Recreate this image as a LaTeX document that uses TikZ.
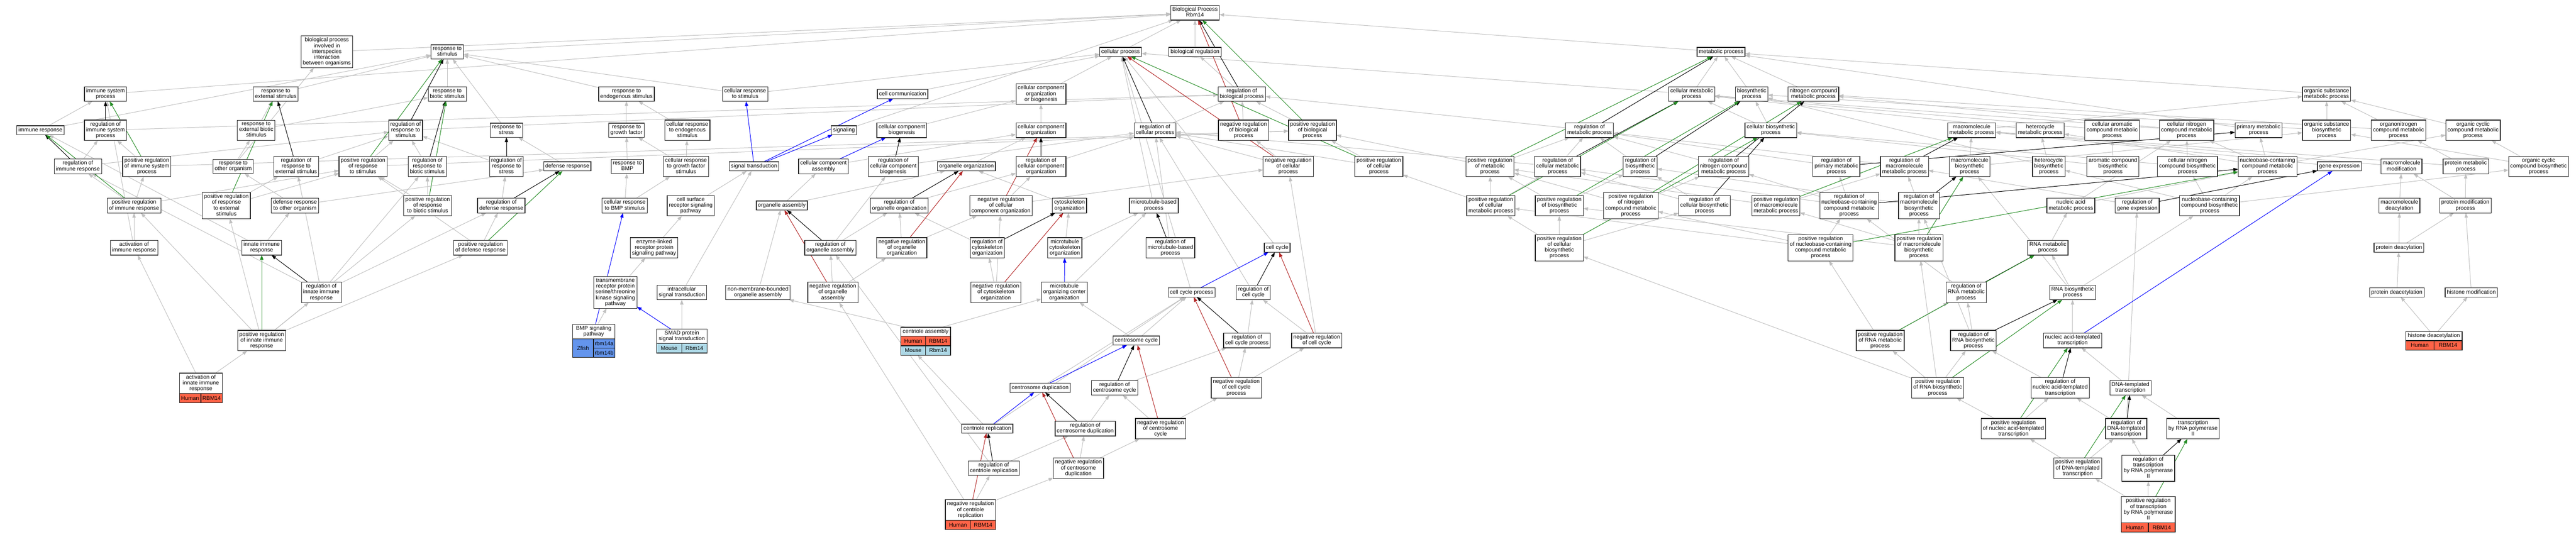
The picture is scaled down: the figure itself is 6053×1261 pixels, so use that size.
\documentclass[tikz,border=0pt]{standalone}
\usepackage{fontspec}
\setmainfont{Liberation Sans}
\usetikzlibrary{arrows.meta}
\newcommand\gofont{\fontsize{13pt}{13.5pt}\selectfont}
\definecolor{egray}{HTML}{C0C0C0}
\definecolor{egreen}{HTML}{228B22}
\definecolor{ered}{HTML}{B22222}
\definecolor{eblue}{HTML}{0000FF}
\definecolor{human}{HTML}{FF6347}
\definecolor{mouse}{HTML}{ADD8E6}
\definecolor{zfish}{HTML}{6495ED}
\pgfdeclarelayer{bg}
\pgfsetlayers{bg,main}
\tikzset{
  go/.style={draw=black!85, line width=1.5pt, fill=white, align=center, inner xsep=4pt, inner ysep=4pt, outer sep=0pt, font=\gofont,
    execute at begin node={\rule{0pt}{10pt}}, execute at end node={\rule[-3.5pt]{0pt}{3.5pt}}},
  tagc/.style={draw=black!90, line width=1.5pt, minimum height=22pt, inner sep=0pt, outer sep=0pt, font=\gofont},
  isa/.style={draw=egray, line width=1.2pt, -{Triangle[length=11pt,width=8pt]}},
  reg/.style={draw=black, line width=1.2pt, -{Triangle[length=11pt,width=8pt]}},
  preg/.style={draw=egreen, line width=1.2pt, -{Triangle[length=11pt,width=8pt]}},
  nreg/.style={draw=ered, line width=1.2pt, -{Triangle[length=11pt,width=8pt]}},
  partof/.style={draw=eblue, line width=1.2pt, -{Triangle[length=11pt,width=8pt]}}
}
\begin{document}
\begin{tikzpicture}[x=1pt,y=-1pt]
\begin{pgfonlayer}{bg}
\fill[white] (0,0) rectangle (6053,1261);
\end{pgfonlayer}
\useasboundingbox (0,0) rectangle (6053,1261);
% ---------- column A
\node[go] (isp) at (768,122) {biological process\\involved in\\interspecies\\interaction\\between organisms};
\node[go] (isys) at (248,221) {immune system\\process};
\node[go] (rext) at (648,221) {response to\\external stimulus};
\node[go] (imr) at (95,306) {immune response};
\node[go] (risp) at (248,306) {regulation of\\immune system\\process};
\node[go] (rebs) at (602,306) {response to\\external biotic\\stimulus};
\node[go] (rrs) at (953,306) {regulation of\\response to\\stimulus};
\node[go] (rir) at (183,391) {regulation of\\immune response};
\node[go] (prisp) at (345,391) {positive regulation\\of immune system\\process};
\node[go] (roo) at (548,391) {response to\\other organism};
\node[go] (rres) at (696,391) {regulation of\\response to\\external stimulus};
\node[go] (prrs) at (853,391) {positive regulation\\of response\\to stimulus};
\node[go] (rrbs) at (1004,391) {regulation of\\response to\\biotic stimulus};
\node[go] (prir) at (315,483) {positive regulation\\of immune response};
\node[go] (prres) at (532,483) {positive regulation\\of response\\to external\\stimulus};
\node[go] (droo) at (693,483) {defense response\\to other organism};
\node[go] (prrbs) at (1005,483) {positive regulation\\of response\\to biotic stimulus};
\node[go] (air) at (315,582) {activation of\\immune response};
\node[go] (iir) at (615,582) {innate immune\\response};
\node[go] (riir) at (755,687) {regulation of\\innate immune\\response};
\node[go] (priir) at (615,800) {positive regulation\\of innate immune\\response};
\node[go, minimum width=101pt] (aiir) at (472,900.5) {activation of\\innate immune\\response};
\node[tagc, fill=human, minimum width=50.5pt, anchor=north west] (aiirA) at (aiir.south west) {Human};
\node[tagc, fill=human, minimum width=50.5pt, anchor=north west] (aiirB) at (aiirA.north east) {RBM14};
% ---------- column B
\node[go] (rs) at (1051,122) {response to\\stimulus};
\node[go] (rbs) at (1051,221) {response to\\biotic stimulus};
\node[go] (rend) at (1472,221) {response to\\endogenous stimulus};
\node[go] (crs) at (1751,221) {cellular response\\to stimulus};
\node[go] (rst) at (1190,306) {response to\\stress};
\node[go] (rgf) at (1472,306) {response to\\growth factor};
\node[go] (cres) at (1615,306) {cellular response\\to endogenous\\stimulus};
\node[go] (sig) at (1983,306) {signaling};
\node[go] (rrst) at (1190,391) {regulation of\\response to\\stress};
\node[go] (dr) at (1333,391) {defense response};
\node[go] (rbmp) at (1474,391) {response to\\BMP};
\node[go] (crgf) at (1612,391) {cellular response\\to growth factor\\stimulus};
\node[go] (st) at (1772,391) {signal transduction};
\node[go] (cca) at (1935,391) {cellular component\\assembly};
\node[go] (rdr) at (1178,483) {regulation of\\defense response};
\node[go] (crbmp) at (1468,483) {cellular response\\to BMP stimulus};
\node[go] (csr) at (1623,483) {cell surface\\receptor signaling\\pathway};
\node[go] (oa) at (1837,483) {organelle assembly};
\node[go] (prdr) at (1129,582) {positive regulation\\of defense response};
\node[go] (elr) at (1537,582) {enzyme-linked\\receptor protein\\signaling pathway};
\node[go] (roa) at (1951,582) {regulation of\\organelle assembly};
\node[go] (tmr) at (1446,687) {transmembrane\\receptor protein\\serine/threonine\\kinase signaling\\pathway};
\node[go] (ist) at (1602,687) {intracellular\\signal transduction};
\node[go] (nmboa) at (1781,687) {non-membrane-bounded\\organelle assembly};
\node[go] (nroa) at (1957,687) {negative regulation\\of organelle\\assembly};
\node[go, minimum width=99pt] (bmp) at (1395,779) {BMP signaling\\pathway};
\node[tagc, fill=zfish, minimum width=49pt, minimum height=43pt, anchor=north west] (bmpA) at (bmp.south west) {Zfish};
\node[tagc, fill=zfish, minimum width=50pt, minimum height=21.5pt, anchor=north west] (bmpB) at (bmpA.north east) {rbm14a};
\node[tagc, fill=zfish, minimum width=50pt, minimum height=21.5pt, anchor=north west] (bmpC) at (bmpB.south west) {rbm14b};
\node[go, minimum width=119pt] (smad) at (1602,790) {SMAD protein\\signal transduction};
\node[tagc, fill=mouse, minimum width=59.5pt, anchor=north west] (smadA) at (smad.south west) {Mouse};
\node[tagc, fill=mouse, minimum width=59.5pt, anchor=north west] (smadB) at (smadA.north east) {Rbm14};
% ---------- column C
\node[go] (bp) at (2808,30) {Biological Process\\Rbm14};
\node[go] (cp) at (2633,122) {cellular process};
\node[go] (breg) at (2808,122) {biological regulation};
\node[go] (cc) at (2121,221) {cell communication};
\node[go] (ccob) at (2446,221) {cellular component\\organization\\or biogenesis};
\node[go] (rbp) at (2918,221) {regulation of\\biological process};
\node[go] (ccb) at (2119,306) {cellular component\\biogenesis};
\node[go] (cco) at (2446,306) {cellular component\\organization};
\node[go] (rcp) at (2714,306) {regulation of\\cellular process};
\node[go] (nrbp) at (2922,306) {negative regulation\\of biological\\process};
\node[go] (rccb) at (2099,391) {regulation of\\cellular component\\biogenesis};
\node[go] (oo) at (2271,391) {organelle organization};
\node[go] (rcco) at (2446,391) {regulation of\\cellular component\\organization};
\node[go] (nrcp) at (3027,391) {negative regulation\\of cellular\\process};
\node[go] (roo2) at (2113,483) {regulation of\\organelle organization};
\node[go] (nrcco) at (2352,483) {negative regulation\\of cellular\\component organization};
\node[go] (cyo) at (2513,483) {cytoskeleton\\organization};
\node[go] (mbp) at (2711,483) {microtubule-based\\process};
\node[go] (nroo) at (2119,582) {negative regulation\\of organelle\\organization};
\node[go] (rcyo) at (2320,582) {regulation of\\cytoskeleton\\organization};
\node[go] (mco) at (2502,582) {microtubule\\cytoskeleton\\organization};
\node[go] (rmbp) at (2750,582) {regulation of\\microtubule-based\\process};
\node[go] (ccy) at (3001,582) {cell cycle};
\node[go] (nrcyo) at (2340,687) {negative regulation\\of cytoskeleton\\organization};
\node[go] (mtoc) at (2501,687) {microtubule\\organizing center\\organization};
\node[go] (ccp) at (2800,687) {cell cycle process};
\node[go] (rcc) at (2945,687) {regulation of\\cell cycle};
\node[go, minimum width=117pt] (ca) at (2175,779.5) {centriole assembly};
\node[tagc, fill=human, minimum width=58.5pt, anchor=north west] (caA) at (ca.south west) {Human};
\node[tagc, fill=human, minimum width=58.5pt, anchor=north west] (caB) at (caA.north east) {RBM14};
\node[tagc, fill=mouse, minimum width=58.5pt, anchor=north west] (caC) at (caA.south west) {Mouse};
\node[tagc, fill=mouse, minimum width=58.5pt, anchor=north west] (caD) at (caC.north east) {Rbm14};
\node[go] (csc) at (2670,800) {centrosome cycle};
\node[go] (rccp) at (2930,800) {regulation of\\cell cycle process};
\node[go] (nrcc) at (3094,800) {negative regulation\\of cell cycle};
\node[go] (cd) at (2444,911) {centrosome duplication};
\node[go] (rcsc) at (2619,911) {regulation of\\centrosome cycle};
\node[go] (nrccp) at (2905,911) {negative regulation\\of cell cycle\\process};
\node[go] (cr) at (2320,1007) {centriole replication};
\node[go] (rcd) at (2550,1007) {regulation of\\centrosome duplication};
\node[go] (nrcsc) at (2727,1007) {negative regulation\\of centrosome\\cycle};
\node[go] (rcr) at (2335,1100) {regulation of\\centriole replication};
\node[go] (nrcd) at (2534,1100) {negative regulation\\of centrosome\\duplication};
\node[go, minimum width=118pt] (nrcr) at (2280.5,1198) {negative regulation\\of centriole\\replication};
\node[tagc, fill=human, minimum width=59pt, anchor=north west] (nrcrA) at (nrcr.south west) {Human};
\node[tagc, fill=human, minimum width=59pt, anchor=north west] (nrcrB) at (nrcrA.north east) {RBM14};
% ---------- column D
\node[go] (prbp) at (3084,306) {positive regulation\\of biological\\process};
\node[go] (prcp) at (3240,391) {positive regulation\\of cellular\\process};
\node[go] (mp) at (4044,122) {metabolic process};
\node[go] (cmp) at (3975,221) {cellular metabolic\\process};
\node[go] (bsp) at (4116,221) {biosynthetic\\process};
\node[go] (ncmp) at (4261,221) {nitrogen compound\\metabolic process};
\node[go] (rmp) at (3735,306) {regulation of\\metabolic process};
\node[go] (cbp) at (4161,306) {cellular biosynthetic\\process};
\node[go] (prmp) at (3501,391) {positive regulation\\of metabolic\\process};
\node[go] (rcmp) at (3660,391) {regulation of\\cellular metabolic\\process};
\node[go] (rbsp) at (3854,391) {regulation of\\biosynthetic\\process};
\node[go] (rncmp) at (4050,391) {regulation of\\nitrogen compound\\metabolic process};
\node[go] (prcmp) at (3503,483) {positive regulation\\of cellular\\metabolic process};
\node[go] (prbsp) at (3664,483) {positive regulation\\of biosynthetic\\process};
\node[go] (prncmp) at (3832,483) {positive regulation\\of nitrogen\\compound metabolic\\process};
\node[go] (rcbp) at (4005,483) {regulation of\\cellular biosynthetic\\process};
\node[go] (prcbp) at (3664,582) {positive regulation\\of cellular\\biosynthetic\\process};
% ---------- column E
\node[go] (mmp) at (4633,306) {macromolecule\\metabolic process};
\node[go] (hmp) at (4794,306) {heterocycle\\metabolic process};
\node[go] (camp) at (4963,306) {cellular aromatic\\compound metabolic\\process};
\node[go] (rpmp) at (4315,391) {regulation of\\primary metabolic\\process};
\node[go] (rmmp) at (4475,391) {regulation of\\macromolecule\\metabolic process};
\node[go] (mbsp) at (4628,391) {macromolecule\\biosynthetic\\process};
\node[go] (hbp) at (4814,391) {heterocycle\\biosynthetic\\process};
\node[go] (acbp) at (4965,391) {aromatic compound\\biosynthetic\\process};
\node[go] (prmmp) at (4173,483) {positive regulation\\of macromolecule\\metabolic process};
\node[go] (rnccmp) at (4345,483) {regulation of\\nucleobase-containing\\compound metabolic\\process};
\node[go] (rmbsp) at (4509,483) {regulation of\\macromolecule\\biosynthetic\\process};
\node[go] (namp) at (4866,483) {nucleic acid\\metabolic process};
\node[go] (rge) at (5022,483) {regulation of\\gene expression};
\node[go] (prnccmp) at (4278,582) {positive regulation\\of nucleobase-containing\\compound metabolic\\process};
\node[go] (prmbsp) at (4509,582) {positive regulation\\of macromolecule\\biosynthetic\\process};
\node[go] (rnamp) at (4812,582) {RNA metabolic\\process};
\node[go] (rrnamp) at (4620,687) {regulation of\\RNA metabolic\\process};
\node[go] (rnabp) at (4870,687) {RNA biosynthetic\\process};
\node[go] (prrnamp) at (4418,800) {positive regulation\\of RNA metabolic\\process};
\node[go] (rrnabp) at (4637,800) {regulation of\\RNA biosynthetic\\process};
\node[go] (natt) at (4870,800) {nucleic acid-templated\\transcription};
\node[go] (prrnabp) at (4553,911) {positive regulation\\of RNA biosynthetic\\process};
\node[go] (rnatt) at (4841,911) {regulation of\\nucleic acid-templated\\transcription};
\node[go] (dtt) at (5006,911) {DNA-templated\\transcription};
\node[go] (prnatt) at (4731,1007) {positive regulation\\of nucleic acid-templated\\transcription};
\node[go] (rdtt) at (4996,1007) {regulation of\\DNA-templated\\transcription};
\node[go] (tRNAPII) at (5153,1007) {transcription\\by RNA polymerase\\II};
\node[go] (prdtt) at (4882,1100) {positive regulation\\of DNA-templated\\transcription};
\node[go] (rtRNAPII) at (5048,1100) {regulation of\\transcription\\by RNA polymerase\\II};
\node[go, minimum width=126pt] (prtRNAPII) at (5048,1197.5) {positive regulation\\of transcription\\by RNA polymerase\\II};
\node[tagc, fill=human, minimum width=63pt, anchor=north west] (prtA) at (prtRNAPII.south west) {Human};
\node[tagc, fill=human, minimum width=63pt, anchor=north west] (prtB) at (prtA.north east) {RBM14};
% ---------- column F
\node[go] (osmp) at (5467,221) {organic substance\\metabolic process};
\node[go] (cncmp) at (5138,306) {cellular nitrogen\\compound metabolic\\process};
\node[go] (pmp) at (5307,306) {primary metabolic\\process};
\node[go] (osbp) at (5467,306) {organic substance\\biosynthetic\\process};
\node[go] (oncmp) at (5636,306) {organonitrogen\\compound metabolic\\process};
\node[go] (occmp) at (5811,306) {organic cyclic\\compound metabolic\\process};
\node[go] (cncbp) at (5140,391) {cellular nitrogen\\compound biosynthetic\\process};
\node[go] (nccmp) at (5328,391) {nucleobase-containing\\compound metabolic\\process};
\node[go] (ge) at (5497,391) {gene expression};
\node[go] (mmod) at (5643,391) {macromolecule\\modification};
\node[go] (prmetp) at (5794,391) {protein metabolic\\process};
\node[go] (occbp) at (5965,391) {organic cyclic\\compound biosynthetic\\process};
\node[go] (nccbp) at (5192,483) {nucleobase-containing\\compound biosynthetic\\process};
\node[go] (mdeac) at (5638,483) {macromolecule\\deacylation};
\node[go] (pmod) at (5793,483) {protein modification\\process};
\node[go] (pdeac) at (5637,582) {protein deacylation};
\node[go] (pdeact) at (5632,687) {protein deacetylation};
\node[go] (hmod) at (5807,687) {histone modification};
\node[go, minimum width=133pt] (hdeac) at (5719,789.5) {histone deacetylation};
\node[tagc, fill=human, minimum width=66.5pt, anchor=north west] (hdA) at (hdeac.south west) {Human};
\node[tagc, fill=human, minimum width=66.5pt, anchor=north west] (hdB) at (hdA.north east) {RBM14};
% ---------- edges
\begin{pgfonlayer}{bg}
\foreach \a/\b in {isp/bp, isys/bp, rs/bp, cp/bp, breg/bp, mp/bp, sig/bp,
 rext/rs, imr/isys, imr/rs, risp/rbp, rebs/rext, rebs/rbs, rrs/rbp,
 rir/risp, rir/rrs, prisp/risp, prisp/prbp, roo/rebs, roo/isp, rres/rrs,
 prrs/rrs, prrs/prbp, rrbs/rrs, prir/rir, prir/prisp, prir/prrs,
 prres/rres, prres/prrs, droo/roo, droo/dr, prrbs/rrbs, prrbs/prrs,
 air/prir, air/isys, iir/imr, iir/droo, riir/rir, riir/rres, riir/rrbs, riir/rdr,
 priir/riir, priir/prir, priir/prres, priir/prdr, priir/prrbs, aiir/priir, aiir/air,
 rbs/rs, rend/rs, crs/rs, crs/cp, rst/rs, rgf/rend, cres/rend, cc/cp,
 rrst/rrs, dr/rst, rbmp/rgf, crgf/rgf, crgf/cres, cca/cco,
 rdr/rrst, crbmp/rbmp, crbmp/crgf, csr/st, oa/cca, oa/oo,
 prdr/rdr, prdr/prrs, elr/csr, roa/roo2, roa/rccb, tmr/elr, ist/st, nmboa/oa,
 nroa/roa, nroa/nroo, bmp/tmr, smad/ist,
 rbp/breg, nrbp/rbp, prbp/rbp, ccob/cp, ccb/ccob, cco/ccob,
 rcp/rbp, nrcp/rcp, nrcp/nrbp, prcp/rcp, prcp/prbp, rccb/rcp, oo/cco, rcco/rcp,
 roo2/rcco, nrcco/rcco, nrcco/nrcp, cyo/oo, mbp/cp, nroo/roo2, nroo/nrcco,
 rcyo/roo2, mco/cyo, mco/mbp, rmbp/rcp, ccy/cp, nrcyo/rcyo, nrcyo/nrcco,
 mtoc/mbp, ccp/cp, rcc/rcp, ca/mtoc, ca/nmboa, csc/ccp, csc/mtoc, rccp/rcc,
 nrcc/rcc, nrcc/nrcp, cd/ccp, rcsc/rccp, nrccp/rccp, nrccp/nrcc, cr/caC, cr/ccp,
 rcd/rcsc, nrcsc/rcsc, nrcsc/nrccp, rcr/rcd, rcr/roa, nrcd/rcd, nrcd/nrcsc,
 nrcr/rcr, nrcr/nrcd, nrcr/nroa,
 cmp/mp, cmp/cp, bsp/mp, ncmp/mp, rmp/rbp, cbp/bsp, cbp/cmp,
 prmp/rmp, prmp/prbp, rcmp/rmp, rcmp/rcp, rbsp/rmp, rncmp/rmp,
 prcmp/rcmp, prcmp/prmp, prcmp/prcp, prbsp/rbsp, prbsp/prmp, prncmp/rncmp, prncmp/prmp,
 rcbp/rbsp, rcbp/rcmp, prcbp/rcbp, prcbp/prbsp, prcbp/prcmp,
 mmp/osmp, hmp/cmp, camp/cmp, rpmp/rmp, rmmp/rmp, mbsp/mmp, mbsp/osbp,
 hbp/hmp, hbp/bsp, acbp/camp, acbp/cbp, prmmp/rmmp, prmmp/prmp,
 rnccmp/rpmp, rnccmp/rcmp, rnccmp/rncmp, rmbsp/rmmp, rmbsp/rbsp,
 namp/nccmp, namp/cncmp, rge/rmmp, prnccmp/rnccmp, prnccmp/prcmp, prnccmp/prncmp,
 prmbsp/rmbsp, prmbsp/prmmp, prmbsp/prbsp, rnamp/namp,
 rrnamp/rnccmp, rnabp/rnamp, rnabp/nccbp, rnabp/mbsp,
 prrnamp/rrnamp, prrnamp/prnccmp, rrnabp/rrnamp, rrnabp/rmbsp, natt/rnabp,
 prrnabp/rrnabp, prrnabp/prrnamp, prrnabp/prmbsp, prrnabp/prcbp,
 rnatt/rrnabp, dtt/natt, prnatt/rnatt, prnatt/prrnabp, rdtt/rnatt, rdtt/rge,
 tRNAPII/dtt, prdtt/prnatt, prdtt/rdtt, rtRNAPII/rdtt, prtRNAPII/rtRNAPII, prtRNAPII/prdtt,
 osmp/mp, cncmp/cmp, cncmp/ncmp, pmp/mp, osbp/osmp, osbp/bsp, oncmp/osmp, oncmp/ncmp,
 occmp/osmp, cncbp/cncmp, cncbp/cbp, nccmp/cncmp, nccmp/pmp, nccmp/occmp, nccmp/hmp,
 ge/mmp, mmod/mmp, prmetp/oncmp, prmetp/mmp, occbp/occmp, occbp/osbp,
 nccbp/nccmp, nccbp/cncbp, nccbp/occbp, nccbp/hbp, mdeac/mmod, pmod/mmod, pmod/prmetp,
 pdeac/mdeac, pdeac/pmod, pdeact/pdeac, hmod/pmod, hdeac/pdeact, hdeac/hmod}
 \draw[isa] (\a) -- (\b);
\foreach \a/\b in {rbp/bp, risp/isys, rrs/rs, rir/imr, rres/rext, rrbs/rbs, riir/iir, rrst/rst, rdr/dr, roa/oa,
 rcp/cp, rccb/ccb, rcco/cco, roo2/oo, rcyo/cyo, rmbp/mbp, rcc/ccy, rccp/ccp, rcsc/csc, rcd/cd, rcr/cr,
 rmp/mp, rcmp/cmp, rbsp/bsp, rncmp/ncmp, rcbp/cbp, rpmp/pmp, rmmp/mmp, rnccmp/nccmp, rmbsp/mbsp,
 rge/ge, rrnamp/rnamp, rrnabp/rnabp, rnatt/natt, rdtt/dtt, rtRNAPII/tRNAPII}
 \draw[reg] (\a) -- (\b);
\foreach \a/\b in {prbp/bp, prisp/isys, prrs/rs, prir/imr, prres/rext, prrbs/rbs, priir/iir, prdr/dr,
 prcp/cp, prmp/mp, prcmp/cmp, prbsp/bsp, prncmp/ncmp, prcbp/cbp, prmmp/mmp, prnccmp/nccmp,
 prmbsp/mbsp, prrnamp/rnamp, prrnabp/rnabp, prnatt/natt, prdtt/dtt, prtRNAPII/tRNAPII}
 \draw[preg] (\a) -- (\b);
\foreach \a/\b in {nrbp/bp, nroa/oa, nrcp/cp, nrcco/cco, nroo/oo, nrcyo/cyo, nrcc/ccy, nrccp/ccp, nrcsc/csc, nrcd/cd, nrcr/cr}
 \draw[nreg] (\a) -- (\b);
\foreach \a/\b in {st/crs, st/sig, st/cc, cca/ccb, bmp/crbmp, smad/tmr, mtoc/mco, ccp/ccy, cd/csc, cr/cd, natt/ge}
 \draw[partof] (\a) -- (\b);
\end{pgfonlayer}
\end{tikzpicture}
\end{document}
